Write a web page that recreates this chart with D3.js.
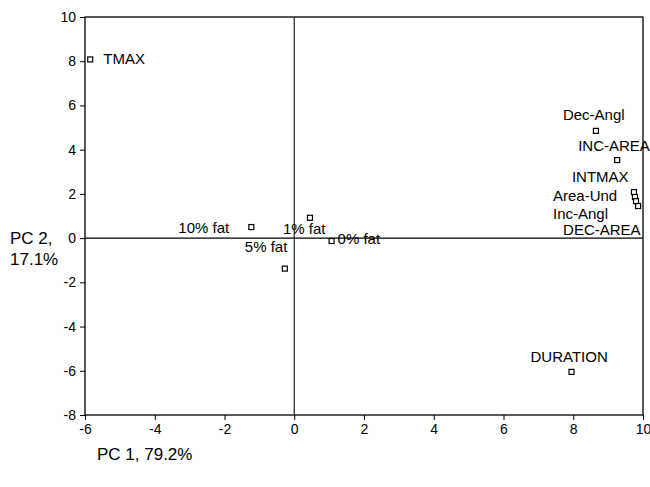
<!DOCTYPE html>
<html>
<head>
<meta charset="utf-8">
<script src="https://cdn.jsdelivr.net/npm/d3@7"></script>
<style>
  html, body { margin: 0; padding: 0; background: #fff; }
  svg { display: block; }
  text { font-family: "Liberation Sans", Arial, Helvetica, sans-serif; fill: #000; }
</style>
</head>
<body>
<svg id="chart" width="650" height="487"></svg>
<script>
// PCA scores: first two principal components
const names = ["TMAX", "Dec-Angl", "INC-AREA", "INTMAX", "Area-Und", "Inc-Angl", "DEC-AREA",
               "DURATION", "10% fat", "1% fat", "0% fat", "5% fat"];
const pc1 = [-5.85, 8.65, 9.26, 9.74, 9.77, 9.80, 9.86, 7.95, -1.23, 0.45, 1.07, -0.27];
const pc2 = [8.08, 4.85, 3.53, 2.08, 1.86, 1.67, 1.45, -6.05, 0.50, 0.92, -0.13, -1.38];

const xTicks = [-6, -4, -2, 0, 2, 4, 6, 8, 10];
const yTicks = [-8, -6, -4, -2, 0, 2, 4, 6, 8, 10];

// label placement relative to each marker (pixels)
const labelDx = [13, -33, -39, -62, -82, -83, -75, -41, -73, -27, 6, -40];
const labelDy = [5, -11, -9, -10, 4, 18, 29, -10, 6, 16, 3, -17];

const svg = d3.select("#chart");
const plot = { left: 85, right: 643, top: 17, bottom: 415 };

const x = d3.scaleLinear().domain([-6, 10]).range([plot.left, plot.right]);
const y = d3.scaleLinear().domain([-8, 10]).range([plot.bottom, plot.top]);

// frame
svg.append("rect")
  .attr("x", plot.left).attr("y", plot.top)
  .attr("width", plot.right - plot.left).attr("height", plot.bottom - plot.top)
  .attr("fill", "none").attr("stroke", "#000").attr("stroke-width", 1.3);

// zero reference lines
svg.append("line")
  .attr("x1", x(0)).attr("x2", x(0)).attr("y1", plot.top).attr("y2", plot.bottom)
  .attr("stroke", "#333").attr("stroke-width", 1.3);
svg.append("line")
  .attr("x1", plot.left).attr("x2", plot.right).attr("y1", y(0)).attr("y2", y(0))
  .attr("stroke", "#000").attr("stroke-width", 1.3);

// axes (plain hyphen for negative tick values)
const fmt = d => String(d);
const xAxis = svg.append("g")
  .attr("transform", `translate(0,${plot.bottom})`)
  .call(d3.axisBottom(x).tickValues(xTicks).tickSize(5).tickPadding(4).tickFormat(fmt));
const yAxis = svg.append("g")
  .attr("transform", `translate(${plot.left},0)`)
  .call(d3.axisLeft(y).tickValues(yTicks).tickSize(5).tickPadding(4).tickFormat(fmt));
[xAxis, yAxis].forEach(g => {
  g.select(".domain").remove();
  g.selectAll("line").attr("stroke", "#000");
  g.selectAll("text").attr("font-size", 14).attr("font-family", "Liberation Sans, Arial, sans-serif");
});

const items = names.map((n, i) => ({ n, i }));

// markers
svg.append("g").selectAll("rect")
  .data(items)
  .join("rect")
  .attr("x", d => x(pc1[d.i]) - 2.5)
  .attr("y", d => y(pc2[d.i]) - 2.5)
  .attr("width", 5).attr("height", 5)
  .attr("fill", "#fff").attr("stroke", "#000").attr("stroke-width", 1.2);

// point labels
svg.append("g").selectAll("text")
  .data(items)
  .join("text")
  .attr("x", d => x(pc1[d.i]) + labelDx[d.i])
  .attr("y", d => y(pc2[d.i]) + labelDy[d.i])
  .attr("font-size", 15)
  .text(d => d.n);

// axis titles
svg.append("text").attr("x", 10).attr("y", 244).attr("font-size", 17).text("PC 2,");
svg.append("text").attr("x", 10).attr("y", 265).attr("font-size", 17).text("17.1%");
svg.append("text").attr("x", 97).attr("y", 460).attr("font-size", 17).text("PC 1, 79.2%");
</script>
</body>
</html>
